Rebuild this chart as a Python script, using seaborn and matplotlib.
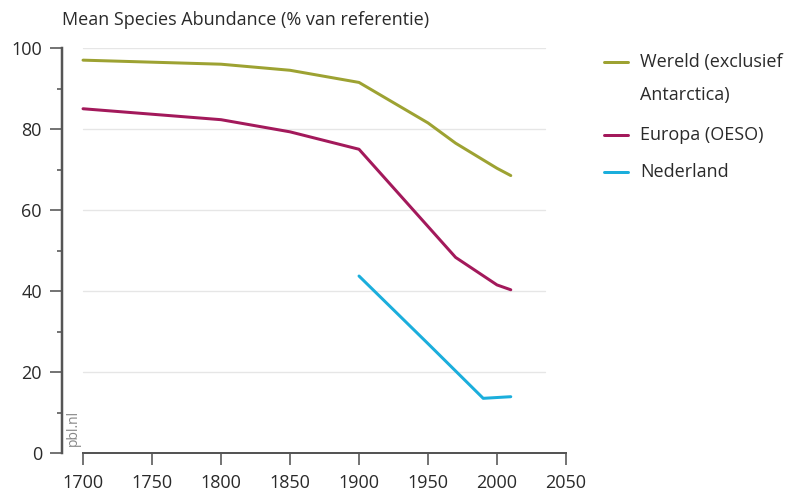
import numpy as np
import pandas as pd
import matplotlib
matplotlib.use('Agg')
import matplotlib.pyplot as plt
import seaborn as sns
from matplotlib.lines import Line2D

# data
wereld_jaar = [1700, 1800, 1850, 1900, 1950, 1970, 2000, 2010]
wereld_msa = [97, 96, 94.5, 91.5, 81.5, 76.5, 70.3, 68.5]
europa_jaar = [1700, 1800, 1850, 1900, 1970, 2000, 2010]
europa_msa = [85, 82.3, 79.3, 75, 48.3, 41.5, 40.3]
nl_jaar = [1900, 1950, 1990, 2010]
nl_msa = [43.7, 27, 13.5, 13.9]

labels = ['Wereld (exclusief\nAntarctica)', 'Europa (OESO)', 'Nederland']
kleuren = ['#9DA232', '#A3195B', '#1BAEDC']

df = pd.concat([
    pd.DataFrame({'jaar': wereld_jaar, 'msa': wereld_msa, 'regio': labels[0]}),
    pd.DataFrame({'jaar': europa_jaar, 'msa': europa_msa, 'regio': labels[1]}),
    pd.DataFrame({'jaar': nl_jaar, 'msa': nl_msa, 'regio': labels[2]}),
])

sns.set_style('white', {'xtick.bottom': True, 'ytick.left': True})
plt.rcParams['font.family'] = ['Open Sans', 'DejaVu Sans']

W, H = 790, 501
fig = plt.figure(figsize=(W/100, H/100), dpi=100)
# y axis line at x=62px, 1700 at x=83px, 2050 at x=566px
ax = fig.add_axes([62/W, 1-453/H, (566-62)/W, (453-48)/H])
x0 = 1700 - 21 * 350 / (566 - 83)

px = 72/100  # one pixel in points
as_kleur = '#555555'

# gridlines
for y in [20, 40, 60, 80, 100]:
    ax.plot([1700, 2035], [y, y], color='#e6e6e6', lw=1, zorder=0)

sns.lineplot(data=df, x='jaar', y='msa', hue='regio', palette=dict(zip(labels, kleuren)),
             lw=3*px, ax=ax, legend=False)

ax.set_xlim(x0, 2050)
ax.set_ylim(0, 100)
ax.set_xticks(np.arange(1700, 2051, 50))
ax.set_yticks([0, 20, 40, 60, 80, 100])
ax.set_yticks(np.arange(10, 100, 20), minor=True)
ax.set_xlabel('')
ax.set_ylabel('')
for s in ['top', 'right']:
    ax.spines[s].set_visible(False)
ax.spines['left'].set_color(as_kleur)
ax.spines['left'].set_linewidth(2.5*px)
ax.spines['left'].set_zorder(6)
ax.spines['bottom'].set_bounds(1700, 2050)
ax.spines['bottom'].set_color(as_kleur)
ax.spines['bottom'].set_linewidth(2*px)
ax.tick_params(axis='both', which='major', length=12*px, color=as_kleur, width=1.6*px,
               labelsize=13, labelcolor='#2a2a2a', bottom=True, left=True)
ax.tick_params(axis='y', which='minor', length=5*px, color=as_kleur, width=1.6*px, left=True)
ax.tick_params(axis='x', pad=9*px, direction='out')
ax.tick_params(axis='y', pad=8*px)

fig.text(62/W, 1-20/H, 'Mean Species Abundance (% van referentie)', fontsize=13,
         color='#2a2a2a', va='center', ha='left')
fig.text(73/W, 1-428/H, 'pbl.nl', rotation=90, fontsize=10, color='#888888',
         va='center', ha='center')

# legend, placed by hand
leg_y = [62, 135, 172]
leg_tekst = ['Wereld (exclusief', 'Europa (OESO)', 'Nederland']
for y, c, t in zip(leg_y, kleuren, leg_tekst):
    fig.add_artist(Line2D([604/W, 628/W], [1-y/H, 1-y/H], color=c, lw=3*px))
    fig.text(640/W, 1-y/H, t, fontsize=13, color='#2a2a2a', va='center', ha='left')
fig.text(640/W, 1-95/H, 'Antarctica)', fontsize=13, color='#2a2a2a', va='center', ha='left')

fig.savefig('out.png', dpi=100)
